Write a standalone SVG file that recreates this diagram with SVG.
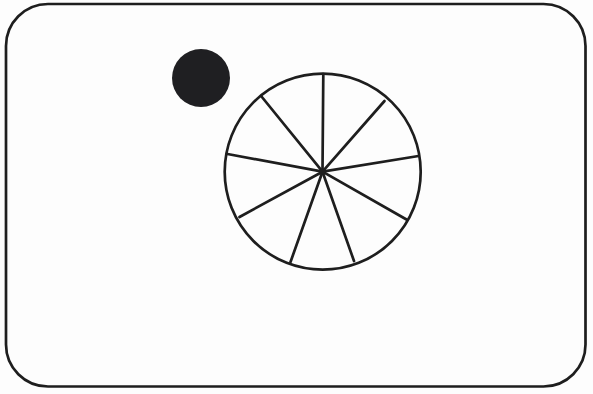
<svg xmlns="http://www.w3.org/2000/svg" width="593" height="394" viewBox="0 0 593 394">
  <style>
    .ln { fill: none; stroke: #1e1e1e; stroke-width: 2.7; stroke-linecap: round; }
  </style>
  <rect x="0" y="0" width="593" height="394" fill="#fdfdfd"/>
  <g id="frame">
    <rect class="ln" x="6" y="4" width="579.5" height="382.5" rx="42" ry="42"/>
  </g>
  <g id="dot">
    <circle cx="201" cy="78" r="29" fill="#1f1f22"/>
  </g>
  <g id="wheel">
    <circle class="ln" cx="322.7" cy="171.7" r="98"/>
    <g class="ln">
      <line x1="322.5" y1="171.7" x2="323.3" y2="74"/>
      <line x1="322.5" y1="171.7" x2="384.5" y2="101"/>
      <line x1="322.5" y1="171.7" x2="418.5" y2="156"/>
      <line x1="322.5" y1="171.7" x2="406.5" y2="219.5"/>
      <line x1="322.5" y1="171.7" x2="354" y2="261"/>
      <line x1="322.5" y1="171.7" x2="290.5" y2="262"/>
      <line x1="322.5" y1="171.7" x2="239.5" y2="217"/>
      <line x1="322.5" y1="171.7" x2="227.5" y2="154"/>
      <line x1="322.5" y1="171.7" x2="261.5" y2="96.5"/>
    </g>
    <circle cx="322.5" cy="171.7" r="3.2" fill="#1e1e1e"/>
  </g>
</svg>
